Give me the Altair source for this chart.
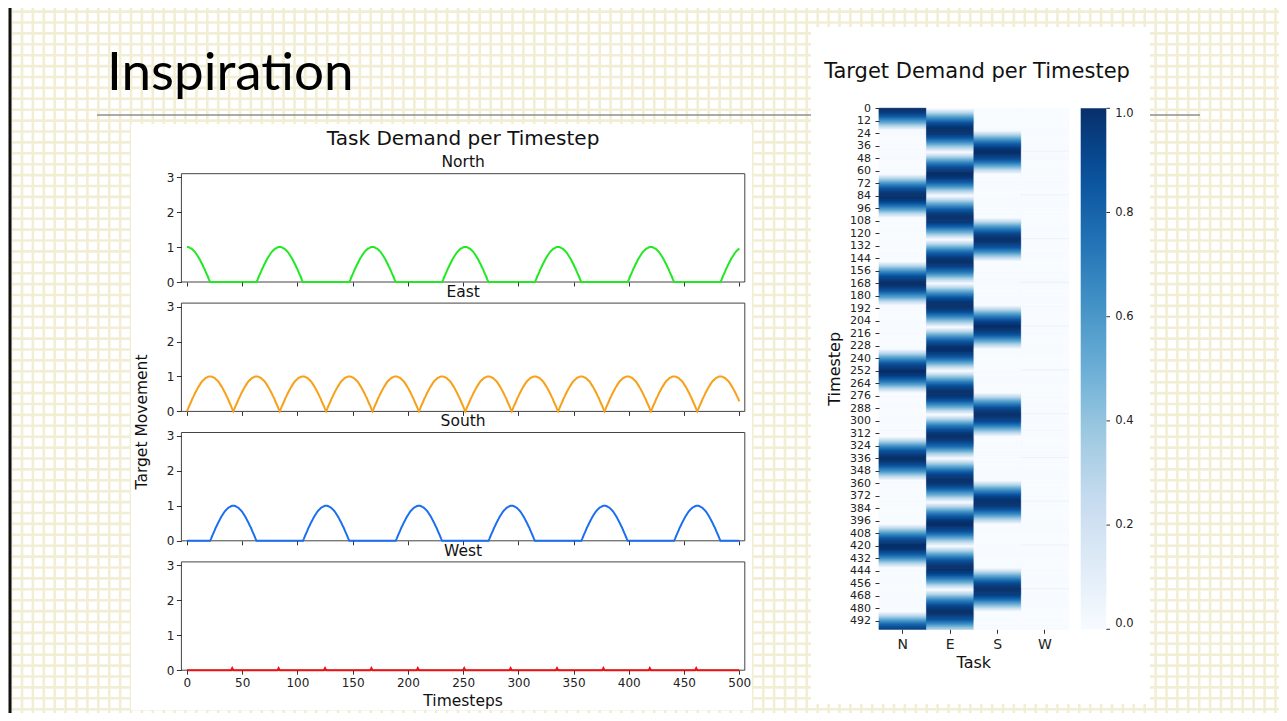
import altair as alt
import pandas as pd

# ---------------- data ----------------
# one half of a demand bump: value at distance 0..21 timesteps from its peak
HALF_BUMP = [1.0, 1.0, 0.99, 0.97, 0.96, 0.93, 0.90, 0.87, 0.83, 0.78, 0.73,
             0.68, 0.62, 0.56, 0.50, 0.43, 0.37, 0.29, 0.22, 0.15, 0.07, 0.0]
NORTH_PEAKS = [0, 84, 168, 252, 336, 420, 504]
EAST_PEAKS = [21, 63, 105, 147, 189, 231, 273, 315, 357, 399, 441, 483]
SOUTH_PEAKS = [42, 126, 210, 294, 378, 462]
WEST_SPIKES = [41, 83, 125, 167, 209, 251, 293, 335, 377, 419, 461]
WEST_SPIKE_VALUE = 0.06
TIMESTEPS = list(range(0, 501))
HEAT_ROWS = list(range(0, 500))
TASKS = ["N", "E", "S", "W"]
PANEL_NAMES = ["North", "East", "South", "West"]
PANEL_COLORS = ["#22e822", "#f7a11a", "#1a6ef0", "#ee1111"]
X_TICKS = [0, 50, 100, 150, 200, 250, 300, 350, 400, 450, 500]
Y_TICKS = [0, 1, 2, 3]
HEAT_TICKS = list(range(0, 493, 12))
CBAR_TICKS = [0.0, 0.2, 0.4, 0.6, 0.8, 1.0]
BLUES = ["#f7fbff", "#deebf7", "#c6dbef", "#9ecae1", "#6baed6",
         "#4292c6", "#2171b5", "#08519c", "#08306b"]
BLUES_STOPS = [0, 0.125, 0.25, 0.375, 0.5, 0.625, 0.75, 0.875, 1.0]


def bumps(peaks):
    out = []
    for t in TIMESTEPS:
        d = min(abs(t - p) for p in peaks)
        out.append(HALF_BUMP[d] if d < len(HALF_BUMP) else 0.0)
    return out


north = bumps(NORTH_PEAKS)
east = bumps(EAST_PEAKS)
south = bumps(SOUTH_PEAKS)
west = [WEST_SPIKE_VALUE if t in WEST_SPIKES else 0.0 for t in TIMESTEPS]
SERIES = [north, east, south, west]

# ---------------- layout ----------------
W, H = 1271, 705
def px(x): return x - 8
def py(y): return y - 8

CREAM = "#f2eed4"
FONT = "DejaVu Sans"
dummy = pd.DataFrame({"k": [0]})


def vtext(txt, x, y, size, font=FONT, align="center", baseline="alphabetic",
          angle=0, color="#111111"):
    return alt.Chart(dummy).mark_text(
        text=txt, fontSize=size, font=font, align=align, baseline=baseline,
        angle=angle, color=color).encode(x=alt.value(x), y=alt.value(y))


def vrect(x, x2, y, y2, **kw):
    return alt.Chart(dummy).mark_rect(**kw).encode(
        x=alt.value(x), x2=alt.value(x2), y=alt.value(y), y2=alt.value(y2))


layers = []

# slide background grid texture
gv = pd.DataFrame({"g": list(range(-1, 117))})
layers.append(alt.Chart(gv).mark_rule(color=CREAM, strokeWidth=2.6).encode(
    x=alt.X("g:Q", scale=alt.Scale(domain=[-1, 116], range=[3.1, 1278.4],
                                   nice=False, zero=False), axis=None),
    y=alt.value(0), y2=alt.value(H)))
gh = pd.DataFrame({"g": list(range(-1, 66))})
layers.append(alt.Chart(gh).mark_rule(color=CREAM, strokeWidth=2.6).encode(
    y=alt.Y("g:Q", scale=alt.Scale(domain=[-1, 65], range=[-7.3, 712.1],
                                   nice=False, zero=False), axis=None),
    x=alt.value(3), x2=alt.value(W)))
# slide border (left) and title rule
layers.append(alt.Chart(dummy).mark_rule(color="#111111", strokeWidth=3).encode(
    x=alt.value(2), y=alt.value(0), y2=alt.value(H)))
layers.append(alt.Chart(dummy).mark_rule(color="#8f8f8f", strokeWidth=1.5).encode(
    x=alt.value(px(97)), x2=alt.value(px(1200)), y=alt.value(py(115))))
layers.append(vtext("Inspiration", px(107), py(90), 53, font="Lato",
                    align="left", color="#000000"))
# white picture panels
layers.append(vrect(px(131), px(752), py(124), py(710), fill="white"))
layers.append(vrect(px(811), px(1150), py(27), py(704), fill="white"))

# ---------------- left figure: four line panels ----------------
FX0, FX1 = px(181.4), px(744.8)
FRAME_TOPS = [py(173.7), py(303.1), py(432.5), py(561.9)]
FRAME_H = 108.3
CX = (FX0 + FX1) / 2

layers.append(vtext("Task Demand per Timestep", CX, py(145), 20))
layers.append(vtext("Timesteps", CX, py(706), 15.5))
layers.append(vtext("Target Movement", px(142), py(422), 15.5, angle=270,
                    baseline="middle"))

for i, name in enumerate(PANEL_NAMES):
    top = FRAME_TOPS[i]
    bottom = top + FRAME_H
    xs = alt.Scale(domain=[-5, 505], range=[FX0, FX1], nice=False, zero=False)
    ys = alt.Scale(domain=[0, 3.1], range=[bottom, top], nice=False, zero=False)
    layers.append(vtext(name, CX, top - 6.3, 15.5))
    fdf = pd.DataFrame({"x0": [-5], "x1": [505], "y0": [0], "y1": [3.1]})
    frame = alt.Chart(fdf).mark_rect(fillOpacity=0, stroke="#444444",
                                     strokeWidth=1).encode(
        x=alt.X("x0:Q", scale=xs, axis=None), x2="x1:Q",
        y=alt.Y("y0:Q", scale=ys, axis=None), y2="y1:Q")
    df = pd.DataFrame({"t": TIMESTEPS, "v": SERIES[i]})
    line = alt.Chart(df).mark_line(color=PANEL_COLORS[i], strokeWidth=2).encode(
        x=alt.X("t:Q", scale=xs, axis=alt.Axis(
            orient="bottom", offset=bottom - H, values=X_TICKS, tickSize=4,
            labels=(i == 3), labelPadding=3, labelFontSize=12, labelFlush=False,
            domain=False, grid=False, title=None, zindex=1,
            tickColor="#333333", labelColor="#222222", labelFont=FONT)),
        y=alt.Y("v:Q", scale=ys, axis=alt.Axis(
            orient="left", offset=-FX0, values=Y_TICKS, tickSize=5,
            labelPadding=2.5, labelFontSize=12, labelFlush=False,
            domain=False, grid=False, title=None, zindex=1,
            tickColor="#333333", labelColor="#222222", labelFont=FONT)))
    layers.append(frame)
    layers.append(line)

# ---------------- right figure: heatmap ----------------
HX0, HX1 = px(879), px(1068.7)
HY0, HY1 = py(108.3), py(629.3)
rows = []
for t in HEAT_ROWS:
    for task, s in zip(TASKS, SERIES):
        rows.append({"t": t, "task": task, "v": s[t]})
hdf = pd.DataFrame(rows)

cscale = alt.Scale(domain=BLUES_STOPS, range=BLUES, interpolate="rgb")
heat = alt.Chart(hdf).mark_rect(strokeWidth=0.8).encode(
    x=alt.X("task:N", scale=alt.Scale(domain=TASKS, range=[HX0, HX1],
                                      paddingInner=0, paddingOuter=0),
            axis=alt.Axis(orient="bottom", offset=HY1 - H, tickSize=4,
                          labelPadding=4, labelFontSize=14, labelAngle=0,
                          domain=False, grid=False, title=None, zindex=1,
                          tickColor="#333333", labelColor="#222222",
                          labelFont=FONT)),
    y=alt.Y("t:O", scale=alt.Scale(domain=HEAT_ROWS, range=[HY0, HY1],
                                   paddingInner=0, paddingOuter=0),
            axis=alt.Axis(orient="left", offset=-HX0, values=HEAT_TICKS,
                          tickSize=4, labelPadding=4.5, labelFontSize=11,
                          labelOverlap=False, domain=False, grid=False,
                          title=None, zindex=1, tickColor="#333333",
                          labelColor="#222222", labelFont=FONT)),
    color=alt.Color("v:Q", scale=cscale, legend=None),
    stroke=alt.Stroke("v:Q", scale=cscale, legend=None))
layers.append(heat)

# colour bar: gradient legend from an invisible layer, plus its tick marks
cb = pd.DataFrame({"c": CBAR_TICKS})
legend_layer = alt.Chart(cb).mark_rect(opacity=0).encode(
    x=alt.value(0), x2=alt.value(1), y=alt.value(0), y2=alt.value(1),
    color=alt.Color("c:Q", scale=cscale, legend=alt.Legend(
        type="gradient", orient="none", legendX=px(1080.7), legendY=HY0,
        direction="vertical", gradientLength=HY1 - HY0, gradientThickness=25.6,
        gradientStrokeWidth=0, title=None, values=CBAR_TICKS, format=".1f",
        labelFontSize=11.5, labelOffset=9, labelBaseline="middle",
        labelOverlap=False, padding=0, zindex=1, labelFont=FONT,
        labelColor="#222222")))
layers.append(legend_layer)
layers.append(alt.Chart(cb).mark_rule(color="#333333", strokeWidth=1).encode(
    y=alt.Y("c:Q", scale=alt.Scale(domain=[0, 1], range=[HY1, HY0],
                                   nice=False, zero=False), axis=None),
    x=alt.value(px(1106.3)), x2=alt.value(px(1110))))

layers.append(vtext("Target Demand per Timestep", px(977), py(77.7), 21))
layers.append(vtext("Timestep", px(835), py(368.8), 16, angle=270,
                    baseline="middle"))
layers.append(vtext("Task", (HX0 + HX1) / 2, py(668.3), 16))

chart = alt.layer(*layers).resolve_scale(
    x="independent", y="independent", color="independent",
    stroke="independent"
).properties(
    width=W, height=H, padding=0,
    autosize=alt.AutoSizeParams(type="none"), background="white"
).configure_view(stroke=None)

chart.save("out.html", embed_options={"renderer": "svg", "actions": False})
